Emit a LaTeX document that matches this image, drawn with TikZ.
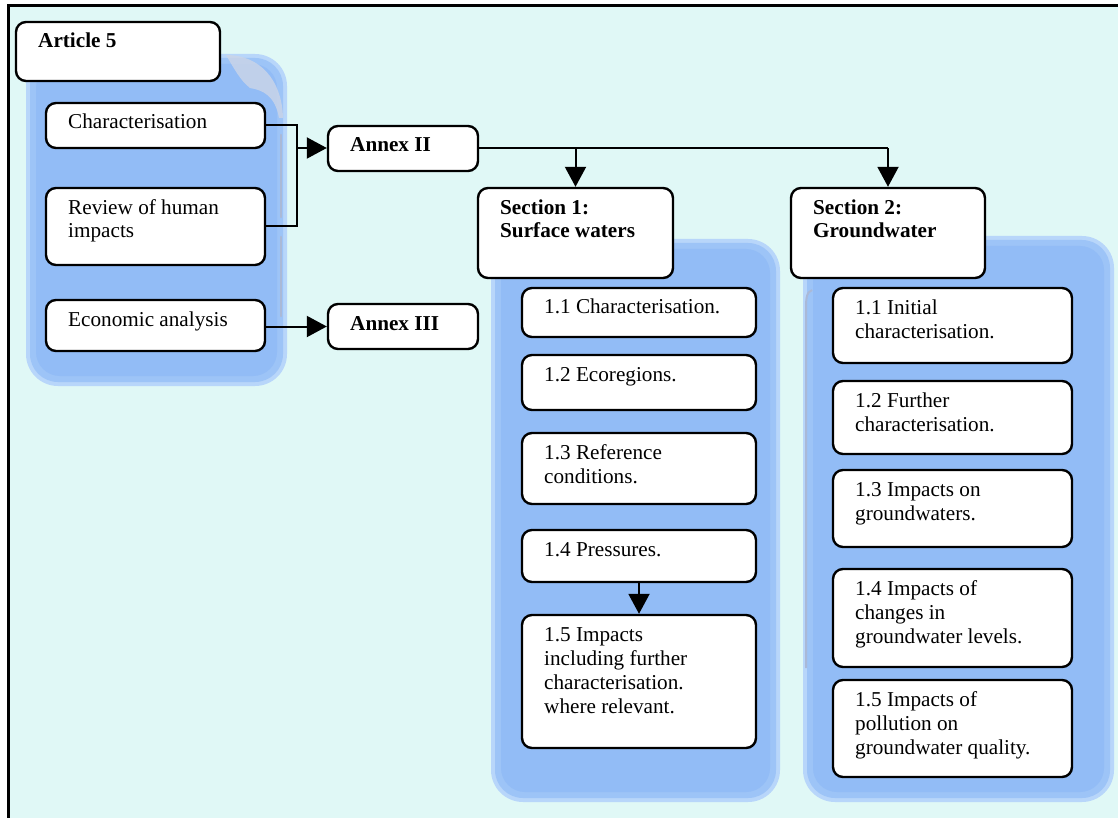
\documentclass[tikz,border=0pt]{standalone}
\usepackage{fontspec}
\setmainfont{Liberation Serif}
\usetikzlibrary{arrows.meta,fit,calc}
\definecolor{bgcyan}{RGB}{224,248,246}
\definecolor{bluein}{RGB}{146,188,246}
\definecolor{blueout}{RGB}{184,214,250}
\definecolor{edgegrey}{RGB}{170,185,215}
\tikzset{
  box/.style={draw=black, line width=1.2pt, fill=white, rounded corners=5pt, inner sep=0pt},
  txt/.style={anchor=north west, inner sep=0pt, align=left, font=\fontsize{10.6}{12}\selectfont},
  btxt/.style={txt, font=\fontsize{10.6}{12}\selectfont\bfseries},
  conn/.style={line width=1pt, draw=black},
  arr/.style={conn, -{Triangle[length=10pt,width=10.5pt]}},
}
\newcommand{\mybox}[7]{%
  \node[box, fit={(#2,#3)(#4,#5)}] (#1) {};
  \node[#7] (#1t) at ([shift={(23,10)}]#1.north west) {\strut #6};
}
\newcommand{\bluebg}[4]{%
  \fill[blueout, rounded corners=16pt] (#1-6,#2-6) rectangle (#3+6,#4+6);
  \fill[bluein!70!blueout, rounded corners=14pt] (#1-2,#2-2) rectangle (#3+2,#4+2);
  \fill[bluein, rounded corners=12pt] (#1+4,#2+4) rectangle (#3-4,#4-4);
}
\begin{document}
\begin{tikzpicture}[x=0.5pt,y=-0.5pt]
\useasboundingbox (0,0) rectangle (1118,818);
% page background and frame
\fill[white] (0,0) rectangle (1118,818);
\fill[bgcyan] (8,6) rectangle (1118,818);
\draw[line width=1.5pt] (8,818) -- (8,6) -- (1118,6);
% blue backgrounds
\bluebg{32}{60}{281}{380}
\bluebg{497}{245}{774}{796}
\bluebg{809}{242}{1108}{796}
% small grey artefacts
\fill[edgegrey!60!white, opacity=0.8] (226,55) .. controls (260,55) and (282,80) .. (283,118) -- (279,118) .. controls (275,95) and (262,90) .. (250,88) .. controls (240,80) and (235,70) .. (226,55) -- cycle;
\draw[edgegrey, line width=1.2pt, line cap=round] (281,135) -- (281,217);
\draw[edgegrey, line width=1.2pt, line cap=round] (281,237) -- (281,316);
\draw[edgegrey, line width=1pt] (812,290) .. controls (806,292) and (806,300) .. (806,310) -- (806,668);
% left column
\mybox{art}{16}{22}{220}{81}{Article 5}{btxt}
\mybox{char}{46}{103}{265}{148}{Characterisation}{txt}
\mybox{rev}{46}{188}{265}{265}{Review of human\\impacts}{txt}
\mybox{eco}{46}{300}{265}{351}{Economic analysis}{txt}
% annexes
\mybox{ann2}{328}{126}{478}{171}{Annex II}{btxt}
\mybox{ann3}{328}{304}{478}{349}{Annex III}{btxt}
% sections
\mybox{sec1}{478}{188}{673}{278}{Section 1:\\Surface waters}{btxt}
\mybox{sec2}{791}{188}{985}{278}{Section 2:\\Groundwater}{btxt}
% surface water items
\mybox{s11}{522}{288}{756}{337}{1.1 Characterisation.}{txt}
\mybox{s12}{522}{355}{756}{410}{1.2 Ecoregions.}{txt}
\mybox{s13}{522}{433}{756}{504}{1.3 Reference\\conditions.}{txt}
\mybox{s14}{522}{530}{756}{582}{1.4 Pressures.}{txt}
\mybox{s15}{522}{615}{756}{748}{1.5 Impacts\\including further\\characterisation.\\where relevant.}{txt}
% groundwater items
\mybox{g11}{833}{288}{1072}{363}{1.1 Initial\\characterisation.}{txt}
\mybox{g12}{833}{381}{1072}{454}{1.2 Further\\characterisation.}{txt}
\mybox{g13}{833}{470}{1072}{547}{1.3 Impacts on\\groundwaters.}{txt}
\mybox{g14}{833}{569}{1072}{667}{1.4 Impacts of\\changes in\\groundwater levels.}{txt}
\mybox{g15}{833}{680}{1072}{777}{1.5 Impacts of\\pollution on\\groundwater quality.}{txt}
% connectors
\coordinate (brk) at (297,148);
\draw[conn] (char.east) -| (brk) |- (rev.east);
\draw[arr] (brk) -- (brk -| ann2.west);
\draw[arr] (eco.east |- ann3.west) -- (ann3.west);
\draw[conn] (ann2.east) -- (ann2.east -| sec2.north);
\draw[arr] (ann2.east -| sec1.north) -- (sec1.north);
\draw[arr] (ann2.east -| sec2.north) -- (sec2.north);
\draw[arr] (s14.south) -- (s15.north);
\end{tikzpicture}
\end{document}
